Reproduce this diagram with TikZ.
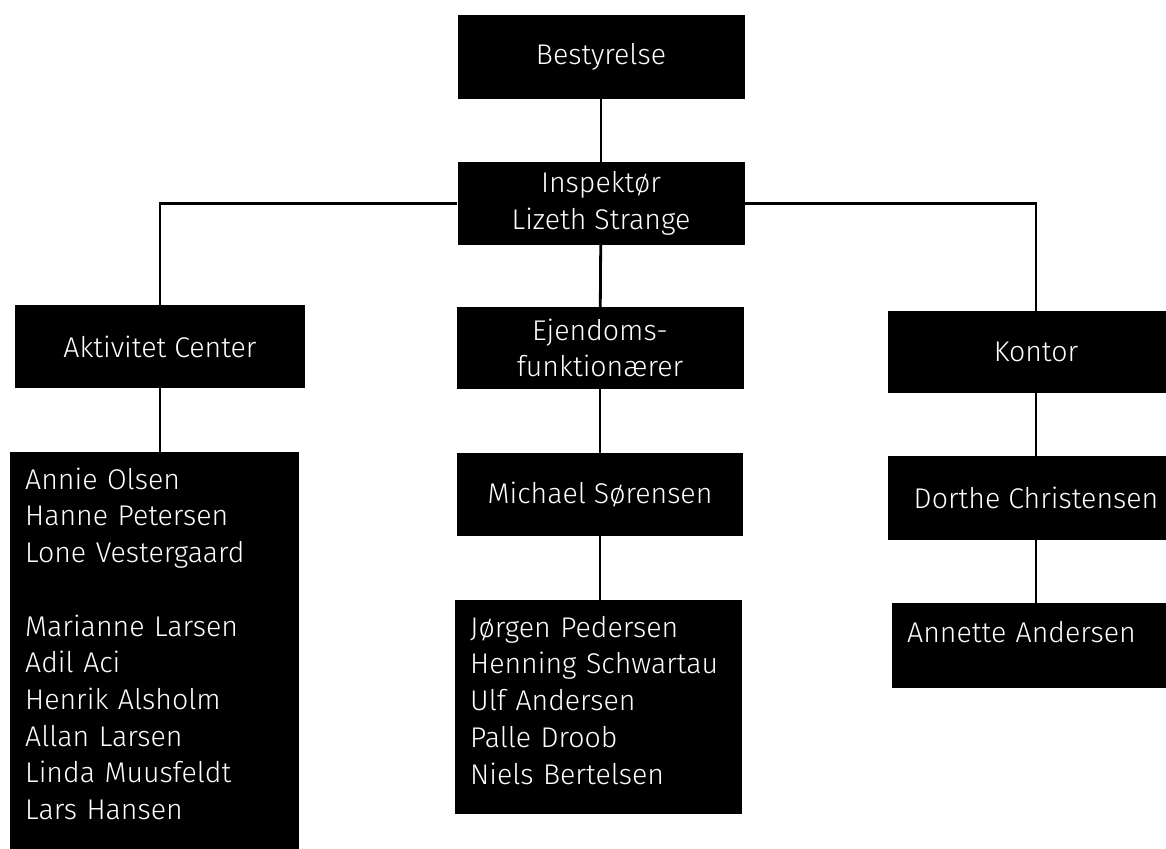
\documentclass[tikz,border=0pt]{standalone}
\usepackage{fontspec}
\setmainfont{Fira Sans Light}
\usetikzlibrary{positioning}

\begin{document}
\begin{tikzpicture}[x=1pt,y=-1pt]

\tikzstyle{box} = [fill=black, text=white, inner sep=0pt, align=center,
  font=\fontsize{28.5}{36.7}\selectfont]
\tikzstyle{listbox} = [box, anchor=north west, align=left, inner xsep=15pt,
  inner ysep=0pt, text height=37pt]
\tikzstyle{link} = [line width=2.8pt]

\fill[white] (0,0) rectangle (1166,848);
\useasboundingbox (0,0) rectangle (1166,848);

% top levels
\node[box, minimum width=287pt, minimum height=84pt] (best) at (601,57) {Bestyrelse};
\node[box, minimum width=287pt, minimum height=83pt] (insp) at (601,203.5) {Inspektør\\Lizeth Strange};

% left column
\node[box, minimum width=290pt, minimum height=83pt] (akt) at (160,346.5) {Aktivitet Center};
\node[box, anchor=north west, minimum width=289pt, minimum height=410pt] (aktstaff) at (10,452) {};
\node[listbox, fill=none, text width=259pt] (aktnames) at (aktstaff.north west)
  {Annie Olsen\\Hanne Petersen\\Lone Vestergaard\\[36.7pt]Marianne Larsen\\Adil Aci\\Henrik Alsholm\\Allan Larsen\\Linda Muusfeldt\\Lars Hansen};

% middle column
\node[box, minimum width=287pt, minimum height=82pt] (ejd) at (600,348) {Ejendoms-\\funktionærer};
\node[box, minimum width=286pt, minimum height=83pt] (mich) at (600,494.5) {Michael Sørensen};
\node[listbox, text width=257pt, text depth=177pt] (ejdstaff) at (455,600)
  {Jørgen Pedersen\\Henning Schwartau\\Ulf Andersen\\Palle Droob\\Niels Bertelsen};

% right column
\node[box, minimum width=296pt, minimum height=82pt] (kontor) at (1036,352) {Kontor};
\node[box, minimum width=296pt, minimum height=84pt] (dorthe) at (1036,498) {Dorthe Christensen};
\node[listbox, text width=266pt, text height=39pt, text depth=46pt] (annette) at (892,603) {Annette Andersen};

% connectors
\draw[link] (best) -- (insp);
\draw[link] (insp.west) -| (akt.north);
\draw[link] (insp.east) -| (kontor.north);
\draw[link] (insp) -- (ejd);
\draw[link] (ejd) -- (mich);
\draw[link] (mich.south) -- (mich.south |- ejdstaff.north);
\draw[link] (akt.south) -- (akt.south |- aktstaff.north);
\draw[link] (kontor) -- (dorthe);
\draw[link] (dorthe.south) -- (dorthe.south |- annette.north);

\end{tikzpicture}
\end{document}
